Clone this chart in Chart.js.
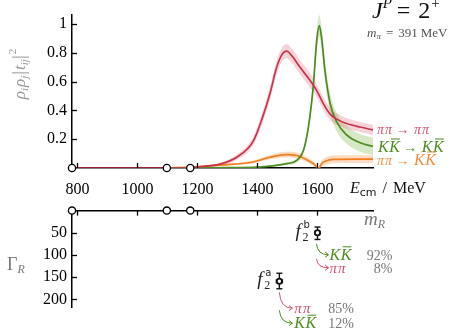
<!DOCTYPE html>
<html><head><meta charset="utf-8">
<script src="https://cdn.jsdelivr.net/npm/chart.js@4/dist/chart.umd.min.js"></script>
<style>
html,body{margin:0;padding:0;background:#fff;}
#wrap{position:relative;width:456px;height:328px;overflow:hidden;}
#top{position:absolute;left:0;top:0;}
#bot{position:absolute;left:0;top:196px;}
</style></head>
<body><div id="wrap"><canvas id="top" width="456" height="196"></canvas><canvas id="bot" width="456" height="132"></canvas></div>
<script>
// ---- data ----
const xTicks = [800, 1000, 1200, 1400, 1600];
const yTicksTop = [0.2, 0.4, 0.6, 0.8, 1];
const yTicksBot = [50, 100, 150, 200];
const thresholds = [782, 1098, 1176];

const redE   = [782, 1150, 1200, 1275, 1331, 1386, 1419, 1442, 1464, 1481, 1497, 1515, 1542, 1575, 1597, 1619, 1642, 1664, 1697, 1742, 1785];
const redV   = [0, 0, 0.008, 0.027, 0.075, 0.187, 0.365, 0.52, 0.70, 0.787, 0.813, 0.78, 0.70, 0.61, 0.54, 0.45, 0.375, 0.34, 0.31, 0.285, 0.265];
const redErr = [0, 0, 0.004, 0.01, 0.018, 0.03, 0.04, 0.045, 0.05, 0.05, 0.05, 0.05, 0.05, 0.05, 0.045, 0.045, 0.042, 0.04, 0.037, 0.035, 0.035];

const greenE   = [1098, 1300, 1400, 1450, 1497, 1531, 1553, 1569, 1586, 1597, 1606, 1614, 1625, 1642, 1664, 1697, 1742, 1785];
const greenV   = [0, 0.002, 0.006, 0.015, 0.03, 0.053, 0.12, 0.275, 0.57, 0.875, 0.99, 0.90, 0.675, 0.45, 0.32, 0.23, 0.175, 0.15];
const greenErr = [0, 0.001, 0.003, 0.005, 0.01, 0.015, 0.02, 0.03, 0.05, 0.07, 0.075, 0.07, 0.07, 0.07, 0.065, 0.062, 0.062, 0.062];

const orangeE   = [1098, 1200, 1275, 1386, 1442, 1497, 1531, 1564, 1586, 1604, 1614, 1630, 1652, 1718, 1785];
const orangeV   = [0, 0.008, 0.02, 0.042, 0.075, 0.093, 0.087, 0.058, 0.031, 0, 0.031, 0.05, 0.06, 0.062, 0.062];
const orangeErr = [0, 0.003, 0.005, 0.01, 0.015, 0.02, 0.02, 0.018, 0.015, 0.008, 0.02, 0.027, 0.027, 0.027, 0.027];

const resNames    = ['a', 'b'];
const resMass     = [1473, 1600];
const resMassErr  = [10, 8];
const resWidth    = [159, 50];
const resWidthLo  = [18, 13];
const resWidthHi  = [17, 15];
const branchA = [['ππ', 85], ['KK', 12]];
const branchB = [['KK', 92], ['ππ', 8]];

// ---- styles ----
const RED = '#c8334b', GREEN = '#4d8c1f', ORANGE = '#f27e1f';
const RED_BAND = 'rgba(220,100,120,0.28)', GREEN_BAND = 'rgba(130,185,80,0.32)', ORANGE_BAND = 'rgba(248,150,80,0.35)';
const RED_TXT = '#d0506a', ORANGE_TXT = '#f39040';
const SERIF = '"Liberation Serif", "DejaVu Serif", serif';
const SANS = '"DejaVu Sans", sans-serif';

const zip = (xs, ys) => xs.map((x, i) => ({x, y: ys[i]}));
const zipAdd = (xs, ys, es, s) => xs.map((x, i) => ({x, y: ys[i] + s * es[i]}));

function curve(xs, ys, color) {
  return {data: zip(xs, ys), borderColor: color, borderWidth: 1.7, pointRadius: 0, showLine: true,
          cubicInterpolationMode: 'monotone', fill: false, order: 2};
}
function band(xs, ys, es, color) {
  return [
    {data: zipAdd(xs, ys, es, 1), borderWidth: 0, borderColor: 'rgba(0,0,0,0)', pointRadius: 0, showLine: true,
     cubicInterpolationMode: 'monotone', fill: '+1', backgroundColor: color, order: 5},
    {data: zipAdd(xs, ys, es, -1), borderWidth: 0, borderColor: 'rgba(0,0,0,0)', pointRadius: 0, showLine: true,
     cubicInterpolationMode: 'monotone', fill: false, order: 5}
  ];
}

function seq(ctx, x, y, items, align) {
  let w = 0;
  items.forEach(it => { ctx.font = it.f; it.w = ctx.measureText(it.t).width; w += it.w + (it.sp || 0); });
  if (align === 'right') x -= w; else if (align === 'center') x -= w / 2;
  items.forEach(it => {
    ctx.font = it.f; ctx.fillStyle = it.c;
    ctx.fillText(it.t, x, y + (it.dy || 0));
    if (it.ol) {
      ctx.strokeStyle = it.c; ctx.lineWidth = 1;
      ctx.beginPath(); ctx.moveTo(x + it.ol[0], y - it.ol[2]); ctx.lineTo(x + it.w + it.ol[1], y - it.ol[2]); ctx.stroke();
    }
    x += it.w + (it.sp || 0);
  });
  return w;
}
function kk(c, size) {
  const f = 'italic ' + size + 'px ' + SERIF;
  return [{t: 'K', f, c, sp: 0.5}, {t: 'K', f, c, ol: [2, 0, Math.round(size * 0.8)]}];
}
function pipi(c, size) {
  const f = 'italic ' + size + 'px ' + SERIF;
  return [{t: 'π', f, c, sp: 1}, {t: 'π', f, c}];
}
function arrowItem(c, size) { return {t: ' → ', f: size + 'px ' + SERIF, c, sp: 1}; }
function line(ctx, x1, y1, x2, y2) { ctx.beginPath(); ctx.moveTo(x1, y1); ctx.lineTo(x2, y2); ctx.stroke(); }

// ---- top chart ----
const topDeco = {
  id: 'topDeco',
  afterDraw(chart) {
    const ctx = chart.ctx, xs = chart.scales.x, ys = chart.scales.y, a = chart.chartArea;
    ctx.save();
    ctx.strokeStyle = '#000'; ctx.lineWidth = 1.3;
    xTicks.forEach(v => { const p = Math.round(xs.getPixelForValue(v)) + 0.5; line(ctx, p, a.bottom, p, a.bottom - 5); });
    yTicksTop.forEach(v => { const p = Math.round(ys.getPixelForValue(v)) + 0.5; line(ctx, a.left, p, a.left + 5, p); });
    ctx.textBaseline = 'alphabetic';
    const lx = a.right + 4;
    seq(ctx, lx, 134, [...pipi(RED_TXT, 14), arrowItem(RED_TXT, 14), ...pipi(RED_TXT, 14)]);
    seq(ctx, lx + 1, 152, [...kk(GREEN, 16), arrowItem(GREEN, 14), ...kk(GREEN, 16)]);
    seq(ctx, lx, 165, [...pipi(ORANGE_TXT, 14), arrowItem(ORANGE_TXT, 14), ...kk(ORANGE_TXT, 16)]);
    // title
    seq(ctx, 372, 18, [
      {t: 'J', f: 'italic 24px ' + SERIF, c: '#111'},
      {t: 'P', f: 'italic 15px ' + SERIF, c: '#111', dy: -10, sp: 5},
      {t: '=', f: '24px ' + SERIF, c: '#111', sp: 8},
      {t: '2', f: '24px ' + SERIF, c: '#111', sp: 1},
      {t: '+', f: '15px ' + SERIF, c: '#111', dy: -10}
    ]);
    seq(ctx, 367, 37, [
      {t: 'm', f: 'italic 13px ' + SERIF, c: '#555'},
      {t: 'π', f: 'italic 9px ' + SERIF, c: '#555', dy: 2, sp: 5},
      {t: '=', f: '13px ' + SERIF, c: '#555', sp: 5},
      {t: '391', f: '13px ' + SERIF, c: '#555', sp: 3},
      {t: 'MeV', f: '13px ' + SERIF, c: '#555'}
    ]);
    // x label
    seq(ctx, 350, 193, [
      {t: 'E', f: 'italic 16px ' + SERIF, c: '#111'},
      {t: 'cm', f: '11px ' + SANS, c: '#111', dy: 3, sp: 6},
      {t: '/', f: '16px ' + SERIF, c: '#111', sp: 6},
      {t: 'MeV', f: '16px ' + SERIF, c: '#111'}
    ]);
    // y title rotated
    ctx.translate(20, 74); ctx.rotate(-Math.PI / 2);
    const G = '#999';
    const yt = [
      {t: 'ρ', f: 'italic 17px ' + SERIF, c: G},
      {t: 'i', f: 'italic 11px ' + SERIF, c: G, dy: 3, sp: 1},
      {t: 'ρ', f: 'italic 17px ' + SERIF, c: G},
      {t: 'j', f: 'italic 11px ' + SERIF, c: G, dy: 3, sp: 1},
      {t: '|', f: '19px ' + SERIF, c: G, sp: 1},
      {t: 't', f: 'italic 17px ' + SERIF, c: G},
      {t: 'ij', f: 'italic 11px ' + SERIF, c: G, dy: 3},
      {t: '|', f: '19px ' + SERIF, c: G, sp: 1},
      {t: '2', f: '11px ' + SERIF, c: G, dy: -9}
    ];
    seq(ctx, 0, 5, yt, 'center');
    ctx.restore();
  }
};

new Chart(document.getElementById('top'), {
  type: 'scatter',
  data: {datasets: [
    {data: thresholds.map(x => ({x, y: 0})), pointRadius: 3.6, pointBackgroundColor: '#fff', pointBorderColor: '#000',
     pointBorderWidth: 1.3, clip: false, showLine: false, order: 0},
    curve(redE, redV, RED),
    curve(greenE, greenV, GREEN),
    curve(orangeE, orangeV, ORANGE),
    ...band(redE, redV, redErr, RED_BAND),
    ...band(greenE, greenV, greenErr, GREEN_BAND),
    ...band(orangeE, orangeV, orangeErr, ORANGE_BAND)
  ]},
  options: {
    responsive: false, animation: false, events: [],
    layout: {padding: {top: 8, right: 83, left: 0, bottom: 0}},
    plugins: {legend: {display: false}, tooltip: {enabled: false}},
    scales: {
      x: {type: 'linear', min: 782, max: 1785,
          afterBuildTicks: s => { s.ticks = xTicks.map(v => ({value: v})); },
          afterFit: s => { s.height = 28; },
          grid: {display: false, drawTicks: false},
          border: {display: true, color: '#000', width: 1.5},
          ticks: {padding: 12, color: '#000', autoSkip: false, maxRotation: 0,
                  font: {family: 'Liberation Serif', size: 16}, callback: v => String(v)}},
      y: {type: 'linear', min: 0, max: 1.067,
          afterBuildTicks: s => { s.ticks = yTicksTop.map(v => ({value: v})); },
          afterFit: s => { s.width = 72; },
          grid: {display: false, drawTicks: false},
          border: {display: true, color: '#000', width: 1.5},
          ticks: {padding: 5, color: '#000', autoSkip: false,
                  font: {family: 'Liberation Serif', size: 16}, callback: v => String(v)}}
    }
  },
  plugins: [topDeco]
});

// ---- bottom chart ----
const botDeco = {
  id: 'botDeco',
  beforeDatasetsDraw(chart) {
    const ctx = chart.ctx, xs = chart.scales.x, ys = chart.scales.y;
    ctx.save(); ctx.strokeStyle = '#111'; ctx.lineWidth = 1.4;
    resMass.forEach((m, i) => {
      const px = xs.getPixelForValue(m), py = ys.getPixelForValue(resWidth[i]);
      const y1 = ys.getPixelForValue(resWidth[i] - resWidthLo[i]), y2 = ys.getPixelForValue(resWidth[i] + resWidthHi[i]);
      const x1 = xs.getPixelForValue(m - resMassErr[i]), x2 = xs.getPixelForValue(m + resMassErr[i]);
      line(ctx, px, y1, px, y2); line(ctx, px - 3, y1, px + 3, y1); line(ctx, px - 3, y2, px + 3, y2);
      line(ctx, x1, py, x2, py); line(ctx, x1, py - 2, x1, py + 2); line(ctx, x2, py - 2, x2, py + 2);
    });
    ctx.restore();
  },
  afterDraw(chart) {
    const ctx = chart.ctx, xs = chart.scales.x, ys = chart.scales.y, a = chart.chartArea;
    ctx.save();
    ctx.strokeStyle = '#000'; ctx.lineWidth = 1.3;
    xTicks.forEach(v => { const p = Math.round(xs.getPixelForValue(v)) + 0.5; line(ctx, p, a.top, p, a.top + 5); });
    yTicksBot.forEach(v => { const p = Math.round(ys.getPixelForValue(v)) + 0.5; line(ctx, a.left, p, a.left + 5, p); });
    ctx.textBaseline = 'alphabetic';
    const G = '#777';
    seq(ctx, 7, ys.getPixelForValue(133), [
      {t: 'Γ', f: '18px ' + SERIF, c: G},
      {t: 'R', f: 'italic 12px ' + SERIF, c: G, dy: 3}
    ]);
    seq(ctx, 364, ys.getPixelForValue(32), [
      {t: 'm', f: 'italic 19px ' + SERIF, c: G},
      {t: 'R', f: 'italic 12px ' + SERIF, c: G, dy: 3}
    ]);
    const pts = resMass.map((m, i) => ({x: xs.getPixelForValue(m), y: ys.getPixelForValue(resWidth[i])}));
    pts.forEach((p, i) => {
      ctx.font = 'italic 19px ' + SERIF; ctx.fillStyle = '#222';
      ctx.fillText('f', p.x - 22, p.y + 4);
      ctx.font = '12px ' + SERIF; ctx.fillText('2', p.x - 15, p.y + 8);
      ctx.font = '10px ' + SANS; ctx.fillText(resNames[i], p.x - 14, p.y - 5);
    });
    function arrow(x0, y0, x1, y1, c) {
      ctx.strokeStyle = c; ctx.lineWidth = 1;
      ctx.beginPath(); ctx.moveTo(x0, y0); ctx.quadraticCurveTo(x0 + 1, y1, x1, y1); ctx.stroke();
      ctx.beginPath(); ctx.moveTo(x1 - 3.5, y1 - 3); ctx.lineTo(x1, y1); ctx.lineTo(x1 - 3.5, y1 + 2.5); ctx.stroke();
    }
    const col = n => n === 'KK' ? GREEN : RED_TXT;
    const lab = (n, c) => n === 'KK' ? kk(c, 16) : pipi(c, 15);
    const pa = pts[0];
    branchA.forEach((b, j) => {
      const yy = pa.y + 27 + j * 15;
      arrow(pa.x, pa.y + 11 + j * 18, pa.x + 13, yy, col(b[0]));
      seq(ctx, pa.x + 15, yy + 5, lab(b[0], col(b[0])));
      seq(ctx, pa.x + 49, yy + 5, [{t: b[1] + '%', f: '14px ' + SERIF, c: G}]);
    });
    const pb = pts[1];
    branchB.forEach((b, j) => {
      const yy = pb.y + 22 + j * 13;
      arrow(pb.x - 1, pb.y + 11 + j * 15, pb.x + 11, yy, col(b[0]));
      seq(ctx, pb.x + 12, yy + 5, lab(b[0], col(b[0])));
      seq(ctx, pb.x + 75, yy + 5, [{t: b[1] + '%', f: '14px ' + SERIF, c: G}], 'right');
    });
    ctx.restore();
  }
};

new Chart(document.getElementById('bot'), {
  type: 'scatter',
  data: {datasets: [
    {data: thresholds.map(x => ({x, y: 0})), pointRadius: 3.6, pointBackgroundColor: '#fff', pointBorderColor: '#000',
     pointBorderWidth: 1.3, clip: false, showLine: false},
    {data: zip(resMass, resWidth), pointRadius: 2.6, pointBackgroundColor: '#fff', pointBorderColor: '#111',
     pointBorderWidth: 1.8, clip: false, showLine: false}
  ]},
  options: {
    responsive: false, animation: false, events: [],
    layout: {padding: {top: 11, right: 83, left: 0, bottom: 21}},
    plugins: {legend: {display: false}, tooltip: {enabled: false}},
    scales: {
      x: {type: 'linear', position: 'top', min: 782, max: 1785,
          afterBuildTicks: s => { s.ticks = xTicks.map(v => ({value: v})); },
          afterFit: s => { s.height = 0; },
          grid: {display: false, drawTicks: false},
          border: {display: true, color: '#000', width: 1.5},
          ticks: {display: false}},
      y: {type: 'linear', reverse: true, min: 0, max: 217,
          afterBuildTicks: s => { s.ticks = yTicksBot.map(v => ({value: v})); },
          afterFit: s => { s.width = 72; },
          grid: {display: false, drawTicks: false},
          border: {display: true, color: '#000', width: 1.5},
          ticks: {padding: 5, color: '#000', autoSkip: false,
                  font: {family: 'Liberation Serif', size: 16}, callback: v => String(v)}}
    }
  },
  plugins: [botDeco]
});
</script>
</body></html>
